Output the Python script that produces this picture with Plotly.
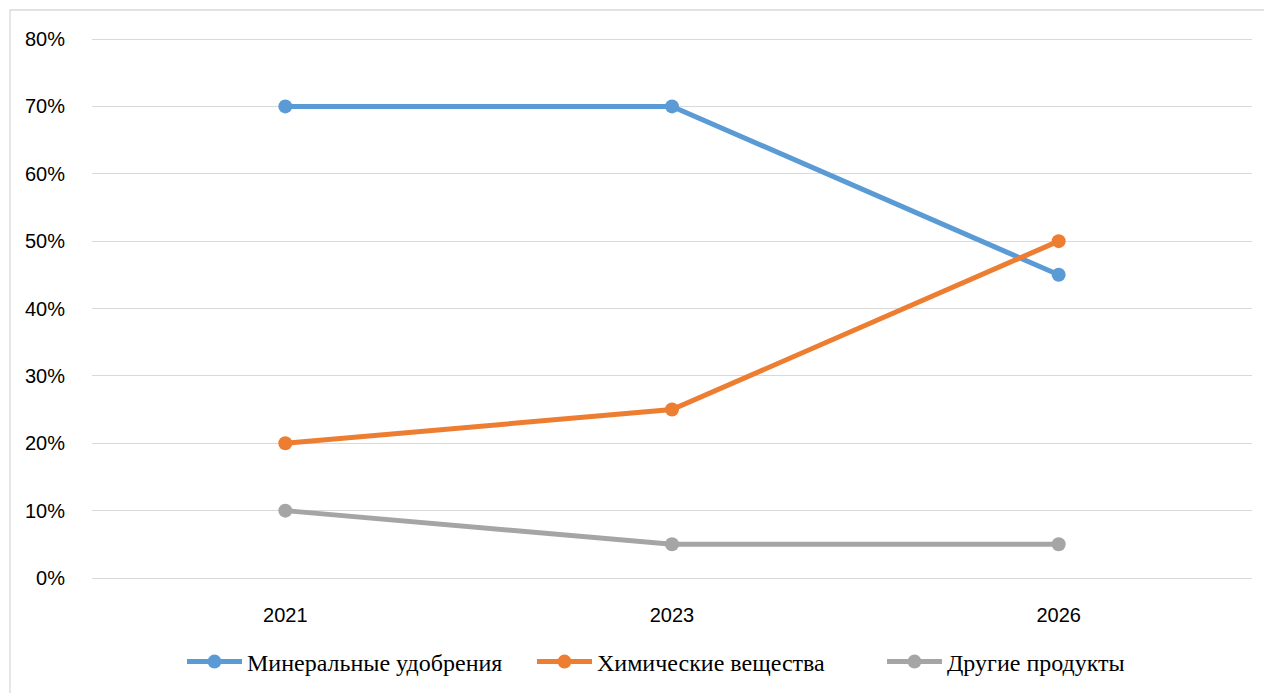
import plotly.graph_objects as go

years = ["2021", "2023", "2026"]
mineral = [0.70, 0.70, 0.45]
chemical = [0.20, 0.25, 0.50]
other = [0.10, 0.05, 0.05]
names = ["Минеральные удобрения", "Химические вещества", "Другие продукты"]
colors = ["#5B9BD5", "#ED7D31", "#A5A5A5"]
yticks = [0, 0.1, 0.2, 0.3, 0.4, 0.5, 0.6, 0.7, 0.8]

fig = go.Figure()
for vals, name, col in zip([mineral, chemical, other], names, colors):
    fig.add_trace(go.Scatter(
        x=years, y=vals, name=name, mode="lines+markers",
        line=dict(color=col, width=5),
        marker=dict(color=col, size=14),
    ))

# page body has an 8px margin; compensate
OFF = 8
PADPX = 3
L, R, T, B = 92 - OFF, 20, 39 - OFF - PADPX, 115 - PADPX
W, H = 1272 - OFF, 693 - OFF
pw, ph = W - L - R, H - T - B
pad = 0.8 * PADPX / (ph - 2 * PADPX)

fig.update_layout(
    width=W, height=H,
    margin=dict(l=L, r=R, t=T, b=B, autoexpand=False),
    paper_bgcolor="white", plot_bgcolor="white",
    showlegend=True,
    legend=dict(orientation="h", x=(190 - OFF - 8 - L) / pw, xanchor="left",
                y=-(662 - OFF - (T + ph)) / ph, yanchor="middle",
                font=dict(family="Liberation Serif", size=24, color="#000000"),
                itemwidth=55, entrywidth=280, entrywidthmode="pixels"),
    xaxis=dict(type="category", range=[-0.5, 2.5], showgrid=False, zeroline=False,
               showline=False, ticks="outside", ticklen=13 + PADPX, tickcolor="rgba(0,0,0,0)",
               tickfont=dict(family="Liberation Sans", size=20, color="#000000")),
    yaxis=dict(range=[-pad, 0.8 + pad], tickvals=yticks, tickformat=".0%", showgrid=True,
               gridcolor="#D9D9D9", gridwidth=1.3, zeroline=False, showline=False,
               ticks="outside", ticklen=22, tickcolor="rgba(0,0,0,0)",
               tickfont=dict(family="Liberation Sans", size=20, color="#000000")),
    shapes=[dict(type="rect", xref="paper", yref="paper",
                 x0=(10 - OFF - L) / pw, x1=(W + 20 - L) / pw,
                 y0=-(H + 20 - (T + ph)) / ph, y1=1 + (T - (10 - OFF)) / ph,
                 line=dict(color="#D9D9D9", width=1.3), layer="below")],
)

fig.write_html("out.html")
